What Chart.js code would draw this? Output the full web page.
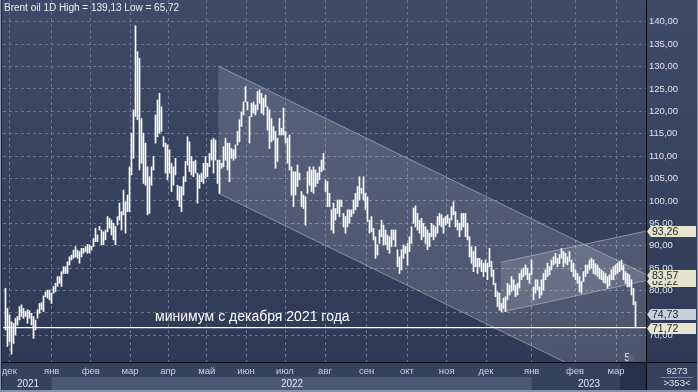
<!DOCTYPE html>
<html>
<head>
<meta charset="utf-8">
<script src="https://cdn.jsdelivr.net/npm/chart.js@4.4.1/dist/chart.umd.min.js"></script>
<style>
  html, body { margin: 0; padding: 0; background: #34415d; }
  canvas { display: block; }
</style>
</head>
<body>
<canvas id="chart" width="698" height="392"></canvas>
<script>
// Brent oil, daily bars, Dec 2021 - Mar 2023 (high / low per session)
const highs = [
  80.5,76.0,74.5,73.0,72.7,73.8,74.2,76.4,76.8,76.0,
  75.3,75.7,75.5,74.9,74.2,73.4,75.7,77.1,77.3,78.8,
  79.7,80.1,80.1,79.4,80.9,81.6,83.1,83.1,84.2,85.3,
  85.3,86.4,87.5,87.9,89.0,89.8,89.0,88.7,89.4,89.4,
  89.8,90.3,90.2,89.9,91.6,93.9,92.4,94.3,93.5,93.1,
  93.5,96.5,96.1,95.7,95.0,94.3,96.5,99.5,97.6,102.4,
  99.8,101.3,107.6,115.1,120.3,139.1,133.3,131.8,118.4,115.1,
  112.9,107.6,105.4,107.6,109.9,119.2,122.5,124.0,121.0,114.3,
  112.9,112.5,111.4,108.4,107.6,109.5,103.5,103.2,103.2,105.4,
  108.8,114.3,113.2,109.9,108.8,109.1,106.2,105.8,106.2,108.4,
  109.9,108.4,110.6,113.6,114.0,113.6,109.1,109.1,108.4,112.1,
  114.0,112.9,112.9,111.7,111.4,112.5,115.5,118.1,119.9,122.1,
  125.5,122.1,118.8,121.8,122.1,121.4,124.4,124.8,124.0,122.9,
  123.6,121.0,120.3,118.4,116.6,115.5,114.0,118.4,116.2,120.7,
  115.5,114.0,114.7,107.6,106.5,106.5,108.0,106.2,102.1,101.3,
  100.9,106.5,107.6,106.9,107.6,106.9,106.2,107.6,109.1,110.6,
  104.7,104.3,101.7,98.0,99.5,98.3,100.2,100.2,100.2,97.2,
  96.5,98.0,98.0,98.0,100.2,101.7,103.2,105.4,102.8,105.4,
  101.7,100.9,95.7,96.5,93.9,92.0,90.2,93.5,95.7,94.6,
  93.5,92.4,92.0,93.5,93.5,93.5,89.1,87.5,89.1,90.2,
  89.8,90.5,92.0,94.2,98.4,98.9,97.2,95.7,96.1,95.0,
  94.2,93.5,92.8,95.0,94.6,94.2,96.5,97.2,96.9,96.1,
  96.5,96.9,96.1,98.7,99.8,97.6,95.7,95.0,97.2,97.2,
  97.2,95.0,92.0,89.8,88.7,89.8,87.2,87.2,86.8,86.1,
  86.8,86.1,89.4,86.5,84.6,81.6,79.7,79.4,77.1,78.3,
  78.6,81.6,81.2,83.1,82.4,81.2,81.6,83.8,84.6,85.0,
  85.7,85.0,83.8,86.8,80.8,82.4,82.4,80.8,82.4,83.8,
  84.6,86.1,85.3,86.8,87.5,88.3,87.2,88.0,89.4,88.7,
  88.3,87.5,88.7,86.8,86.1,84.6,83.8,83.1,82.0,84.2,
  85.7,85.7,86.8,87.2,86.8,86.0,85.7,85.0,84.6,84.2,
  83.8,83.1,83.5,84.6,85.3,85.7,86.1,86.5,86.8,85.7,
  84.2,83.8,83.5,82.4,80.5,77.5
];
const lows = [
  71.2,67.5,68.6,65.8,68.2,70.1,72.3,73.4,74.2,73.8,
  74.2,72.7,73.8,72.3,69.3,71.2,73.8,74.9,75.7,75.3,
  78.6,78.3,77.9,77.1,79.4,79.7,80.9,81.6,80.9,83.8,
  83.8,83.8,85.7,86.8,87.2,87.5,87.2,86.1,87.5,88.3,
  88.7,88.3,88.4,89.0,89.8,90.9,90.9,93.5,90.2,90.2,
  91.3,93.1,93.9,92.4,91.3,90.2,94.6,95.7,93.5,96.9,
  92.8,97.6,97.6,105.8,109.5,118.8,118.1,106.9,108.4,103.9,
  103.5,96.9,97.2,103.5,106.9,112.9,114.3,115.1,115.5,112.1,
  106.2,104.7,106.2,102.1,103.5,105.8,100.2,98.7,97.6,101.3,
  104.3,108.0,106.5,105.8,105.4,106.2,99.5,102.8,104.3,103.9,
  105.0,105.4,107.6,109.1,106.2,109.1,103.9,101.7,107.3,107.6,
  109.1,106.9,104.3,109.5,109.1,109.5,112.5,113.2,116.6,119.2,
  122.1,120.3,112.9,118.8,119.6,119.2,120.3,121.8,119.6,119.2,
  121.0,115.8,111.7,113.2,113.6,107.3,108.8,114.7,114.7,114.7,
  112.9,108.4,106.9,101.3,98.7,101.3,103.2,104.7,98.7,98.3,
  94.6,101.7,103.5,102.1,101.7,103.2,103.9,104.7,106.5,106.9,
  102.1,98.7,98.7,93.5,92.8,95.7,97.2,96.5,98.7,94.2,
  92.8,94.2,95.0,96.5,97.2,98.0,98.7,100.2,101.7,100.2,
  98.0,95.4,92.8,93.1,91.3,87.2,87.9,90.5,92.0,90.2,
  90.2,89.1,88.3,89.8,91.3,89.8,85.3,83.8,84.6,87.2,
  88.3,85.7,88.7,90.5,95.0,94.2,93.5,92.8,91.3,92.0,
  90.5,89.1,89.8,92.0,91.3,92.0,92.8,94.6,94.2,92.8,
  94.6,95.0,94.2,95.7,96.9,94.2,93.5,92.0,93.5,94.2,
  92.0,91.3,87.5,86.1,84.2,85.3,83.8,85.3,84.2,83.1,
  84.2,82.4,85.3,83.1,81.3,78.6,76.4,75.6,75.3,76.0,
  75.3,77.9,79.0,79.7,80.1,78.6,79.0,80.5,82.4,83.1,
  83.5,82.4,81.6,83.5,77.9,79.4,80.1,78.3,79.0,80.1,
  82.4,83.1,83.5,84.6,85.7,86.1,85.3,86.0,87.2,85.3,
  86.1,85.7,86.5,84.2,83.1,82.4,81.6,79.7,79.4,82.0,
  83.1,83.8,84.6,85.0,83.8,83.5,83.1,82.6,82.4,81.8,
  81.6,80.5,81.0,82.4,82.4,83.5,83.8,84.2,84.6,82.4,
  81.6,80.8,80.8,79.0,76.8,71.72
];

// axis ticks (bar index for time, price for y)
const monthTicks = [1.9, 23.1, 42.6, 62.25, 81.25, 100.6, 120.25, 139.75, 159.75, 180.6, 200.75, 220.6, 240.25, 263.1, 284.75, 305.25];
const monthLabels = ['дек','янв','фев','мар','апр','май','июн','июл','авг','сен','окт','ноя','дек','янв','фев','мар'];
const yearTicks = [11.25, 143.25, 291.75];
const yearLabels = ['2021', '2022', '2023'];
const priceTicks = [70, 75, 80, 85, 90, 95, 100, 105, 110, 115, 120, 125, 130, 135, 140];

// channels: [start index, end index], upper and lower price at each end
const downX = [106.4, 320.25], downTop = [130.1, 83.57], downBottom = [101.7, 55.2];
const upX = [247.6, 320.25], upTop = [86.3, 93.26], upBottom = [75.13, 82.22];

const minLevel = 71.72;
const tagValues = [93.26, 82.22, 83.57, 74.73, 71.72];
const titleText = 'Brent oil 1D High = 139,13 Low = 65,72';
const noteText = 'минимум с декабря 2021 года';
const noteAt = [74.75, 73.3];
const scrollStart = 307.25;

const fmt = v => v.toFixed(2).replace('.', ',');

const overlay = {
  id: 'overlay',
  beforeDraw(chart) {
    const { ctx, chartArea: a, scales: { x } } = chart;
    ctx.save();
    const g = ctx.createLinearGradient(0, 0, 0, a.bottom);
    g.addColorStop(0, '#3e4b68');
    g.addColorStop(1, '#2e3a55');
    ctx.fillStyle = g;
    ctx.fillRect(0, 0, chart.width, a.bottom);
    ctx.fillStyle = '#35425e';
    ctx.fillRect(0, a.bottom, chart.width, chart.height - a.bottom);
    // 2022 band in the year row
    const x0 = x.getPixelForValue(monthTicks[1]);
    const x1 = x.getPixelForValue(monthTicks[13]);
    ctx.fillStyle = '#4b5875';
    ctx.fillRect(x0, a.bottom + 15, x1 - x0, 13);
    // scroll box
    const xs = x.getPixelForValue(scrollStart);
    ctx.fillStyle = '#26314a';
    ctx.fillRect(xs, a.bottom + 1, a.right - xs, 27);
    ctx.restore();
  },
  beforeDatasetsDraw(chart) {
    const { ctx, chartArea: a, scales: { x, y } } = chart;
    const P = (xv, yv) => [x.getPixelForValue(xv), y.getPixelForValue(yv)];
    ctx.save();
    ctx.beginPath();
    ctx.rect(a.left, a.top, a.width, a.height);
    ctx.clip();
    [[downX, downTop, downBottom], [upX, upTop, upBottom]].forEach(([cx, top, bot]) => {
      const pts = [P(cx[0], top[0]), P(cx[1], top[1]), P(cx[1], bot[1]), P(cx[0], bot[0])];
      ctx.beginPath();
      pts.forEach((p, i) => i ? ctx.lineTo(p[0], p[1]) : ctx.moveTo(p[0], p[1]));
      ctx.closePath();
      ctx.fillStyle = 'rgba(255,255,255,0.14)';
      ctx.fill();
      ctx.strokeStyle = 'rgba(195,200,212,0.55)';
      ctx.lineWidth = 1;
      ctx.beginPath();
      ctx.moveTo(pts[0][0], pts[0][1]); ctx.lineTo(pts[1][0], pts[1][1]);
      ctx.moveTo(pts[3][0], pts[3][1]); ctx.lineTo(pts[2][0], pts[2][1]);
      ctx.stroke();
    });
    ctx.restore();
  },
  afterDatasetsDraw(chart) {
    const { ctx, chartArea: a, scales: { x, y } } = chart;
    ctx.save();
    // December 2021 low line
    const ym = y.getPixelForValue(minLevel);
    ctx.strokeStyle = '#ffffff';
    ctx.lineWidth = 1.4;
    ctx.beginPath();
    ctx.moveTo(a.left, ym); ctx.lineTo(a.right, ym);
    ctx.stroke();
    // note
    ctx.fillStyle = '#ffffff';
    ctx.font = '14px "Liberation Sans", Arial, sans-serif';
    ctx.textBaseline = 'alphabetic';
    ctx.fillText(noteText, x.getPixelForValue(noteAt[0]), y.getPixelForValue(noteAt[1]));
    // title
    ctx.fillStyle = '#eef1f6';
    ctx.font = '10px "Liberation Sans", Arial, sans-serif';
    ctx.textBaseline = 'middle';
    ctx.fillText(titleText, 4, 8);
    // "5" marker near scroll box
    ctx.fillStyle = '#e8ecf2';
    ctx.fillText('5', x.getPixelForValue(309.5), a.bottom - 4);
    ctx.fillStyle = '#56617a';
    ctx.fillRect(x.getPixelForValue(311.5), a.bottom - 7, 6, 6);
    ctx.restore();
  },
  afterDraw(chart) {
    const { ctx, chartArea: a, scales: { y } } = chart;
    const W = chart.width, H = chart.height;
    ctx.save();
    // separators
    ctx.fillStyle = '#05070c';
    ctx.fillRect(a.right, 0, 1, H);
    ctx.fillRect(0, a.bottom, W, 1);
    // frame
    ctx.fillStyle = '#8592ab';
    ctx.fillRect(0, 0, 1, H);
    ctx.fillRect(0, H - 2, W, 2);
    ctx.fillRect(W - 1, 0, 1, H);
    ctx.fillStyle = '#1f2a40';
    ctx.fillRect(1, 0, 1, H - 2);
    // price tags
    ctx.font = '10.5px "Liberation Sans", Arial, sans-serif';
    ctx.textBaseline = 'middle';
    tagValues.forEach(v => {
      const yp = Math.round(y.getPixelForValue(v)) + 0.5;
      const l = a.right + 1, r = W - 2, h = 11;
      ctx.beginPath();
      ctx.moveTo(l, yp);
      ctx.lineTo(l + 4, yp - h / 2);
      ctx.lineTo(r, yp - h / 2);
      ctx.lineTo(r, yp + h / 2);
      ctx.lineTo(l + 4, yp + h / 2);
      ctx.closePath();
      ctx.fillStyle = v === 74.73 ? '#c9cedb' : '#e5e5cf';
      ctx.fill();
      ctx.fillStyle = '#1b1e24';
      ctx.fillText(fmt(v), l + 5, yp + 0.5);
    });
    // corner box
    ctx.fillStyle = '#dfe4ec';
    ctx.font = '9.5px "Liberation Sans", Arial, sans-serif';
    ctx.textAlign = 'center';
    ctx.fillText('9273', 677, 371);
    ctx.fillText('>353<', 677, 383);
    ctx.fillStyle = 'rgba(190,198,212,0.5)';
    ctx.fillRect(661, 377, 32, 1);
    ctx.restore();
  }
};

Chart.defaults.font.family = '"Liberation Sans", Arial, sans-serif';

// keep the plot area fixed: no extra room for edge tick labels
const noPad = s => { s.paddingTop = 0; s.paddingBottom = 0; s.paddingLeft = 0; s.paddingRight = 0; };
const gridStyle = { color: '#68768f', drawTicks: false, lineWidth: 1, offset: false };

new Chart(document.getElementById('chart'), {
  type: 'bar',
  data: {
    datasets: [{
      data: highs.map((h, i) => ({ x: i, y: [lows[i], h] })),
      backgroundColor: '#ffffff',
      borderWidth: 0,
      barThickness: 1
    }]
  },
  options: {
    responsive: false,
    animation: false,
    devicePixelRatio: 1,
    layout: { padding: { left: 3, top: 0, right: 0, bottom: 0 } },
    plugins: { legend: { display: false }, tooltip: { enabled: false } },
    scales: {
      x: {
        type: 'linear', position: 'bottom', min: -1.25, max: 320.25, offset: false, weight: 0,
        afterBuildTicks: s => { s.ticks = monthTicks.map(v => ({ value: v })); },
        afterFit: s => { s.height = 14; noPad(s); },
        ticks: { autoSkip: false, maxRotation: 0, padding: 4, color: '#c9d0dc', font: { size: 9.5 },
          callback: (v, i) => monthLabels[i] },
        grid: gridStyle,
        border: { display: false, dash: [3, 3] }
      },
      years: {
        type: 'linear', position: 'bottom', min: -1.25, max: 320.25, offset: false, weight: 1,
        afterBuildTicks: s => { s.ticks = yearTicks.map(v => ({ value: v })); },
        afterFit: s => { s.height = 16; noPad(s); },
        ticks: { autoSkip: false, maxRotation: 0, padding: 2, color: '#dfe4ec', font: { size: 10 },
          callback: (v, i) => yearLabels[i] },
        grid: { display: false, drawTicks: false },
        border: { display: false }
      },
      y: {
        type: 'linear', position: 'right', min: 64.04, max: 144.84,
        afterBuildTicks: s => { s.ticks = priceTicks.map(v => ({ value: v })); },
        afterFit: s => { s.width = 52; noPad(s); },
        ticks: { padding: 3, color: '#dfe4ec', font: { size: 9.5 }, callback: v => fmt(v) },
        grid: gridStyle,
        border: { display: false, dash: [3, 3] }
      }
    }
  },
  plugins: [overlay]
});
</script>
</body>
</html>
